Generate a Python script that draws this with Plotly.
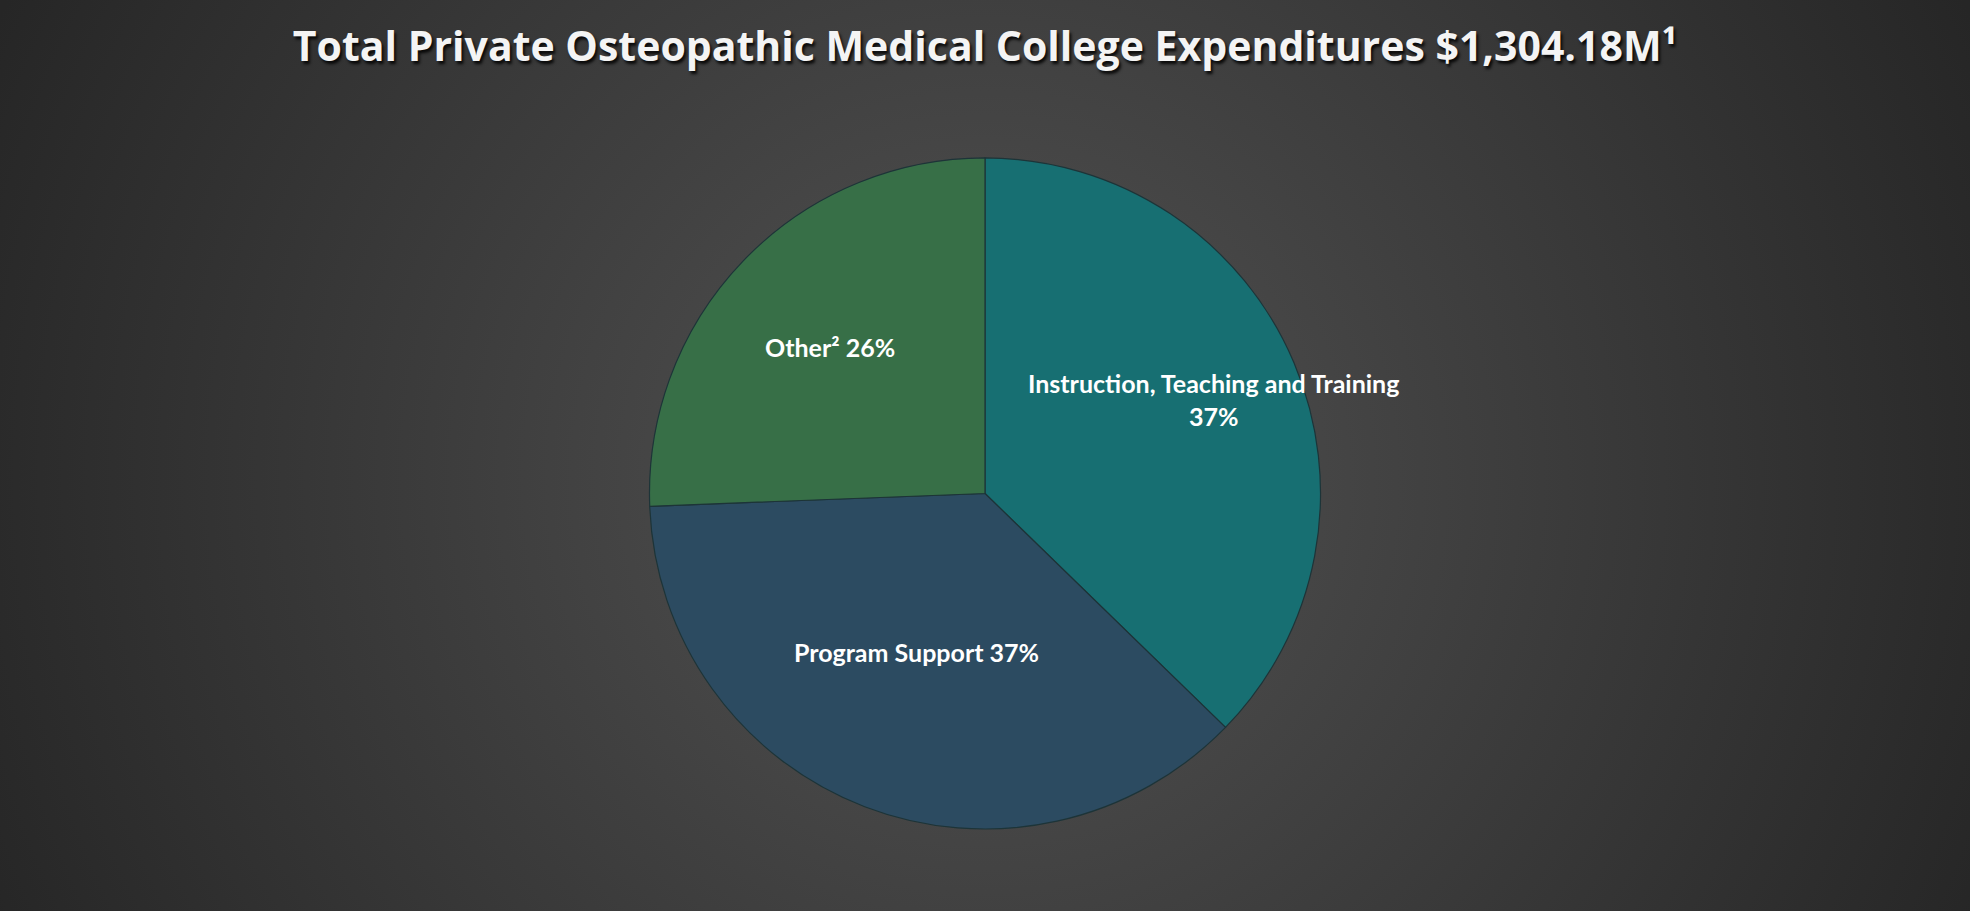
import base64
import plotly.graph_objects as go

# expenditure split, $M
categories = ["Instruction, Teaching and Training", "Program Support", "Other\u00b2"]
spend_m = [486.2, 484.0, 333.98]
slice_colors = ["#176f72", "#2c4b61", "#376f47"]
title_text = "Total Private Osteopathic Medical College Expenditures $1,304.18M\u00b9"

W, H = 1970, 911

# radial grey backdrop like the office chart style
svg = (
    f'<svg xmlns="http://www.w3.org/2000/svg" width="{W}" height="{H}" '
    f'viewBox="0 0 {W} {H}" preserveAspectRatio="none">'
    '<radialGradient id="g" gradientUnits="userSpaceOnUse" cx="985" cy="480" r="1090">'
    '<stop offset="0" stop-color="#535353"/><stop offset="1" stop-color="#262626"/>'
    '</radialGradient><rect width="100%" height="100%" fill="url(#g)"/></svg>'
)
bg_src = "data:image/svg+xml;base64," + base64.b64encode(svg.encode()).decode()

total = sum(spend_m)
pcts = [v / total * 100 for v in spend_m]

fig = go.Figure(
    go.Pie(
        labels=categories,
        values=spend_m,
        sort=False,
        direction="clockwise",
        rotation=0,
        marker=dict(colors=slice_colors, line=dict(color="#1d3438", width=1.2)),
        textinfo="none",
        hoverinfo="label+percent",
        showlegend=False,
        domain=dict(x=[0.3294, 0.6706], y=[0.090, 0.8266]),
    )
)

label_font = dict(family="Lato, Open Sans, sans-serif", size=25, color="white")
label_text = [
    f"{categories[0]}<br>{pcts[0]:.0f}%",
    f"{categories[1]} {pcts[1]:.0f}%",
    f"{categories[2]} {pcts[2]:.0f}%",
]
label_pos = [(0.6162, 0.561), (0.465, 0.284), (0.4213, 0.619)]
for txt, (lx, ly) in zip(label_text, label_pos):
    fig.add_annotation(
        x=lx, y=ly, xref="paper", yref="paper", text=f"<b>{txt}</b>",
        showarrow=False, font=label_font, align="center",
        xanchor="center", yanchor="middle",
    )

fig.update_layout(
    width=W,
    height=H,
    margin=dict(l=0, r=0, t=0, b=0),
    paper_bgcolor="#3a3a3a",
    plot_bgcolor="rgba(0,0,0,0)",
    title=dict(
        text=f"<b>{title_text}</b>",
        x=0.5,
        xanchor="center",
        y=1 - 47 / H,
        yanchor="middle",
        font=dict(
            family="Open Sans, Lato, sans-serif",
            size=41,
            color="#f4f4f4",
            shadow="2px 3px 3px rgba(0,0,0,0.85)",
        ),
    ),
    images=[
        dict(
            source=bg_src, xref="paper", yref="paper", x=0, y=1,
            sizex=1, sizey=1, sizing="stretch", layer="below",
        )
    ],
)

fig.write_html(
    "out.html",
    config={"displayModeBar": False},
    post_script="document.body.style.margin='0';document.body.style.background='#2a2a2a';",
)
